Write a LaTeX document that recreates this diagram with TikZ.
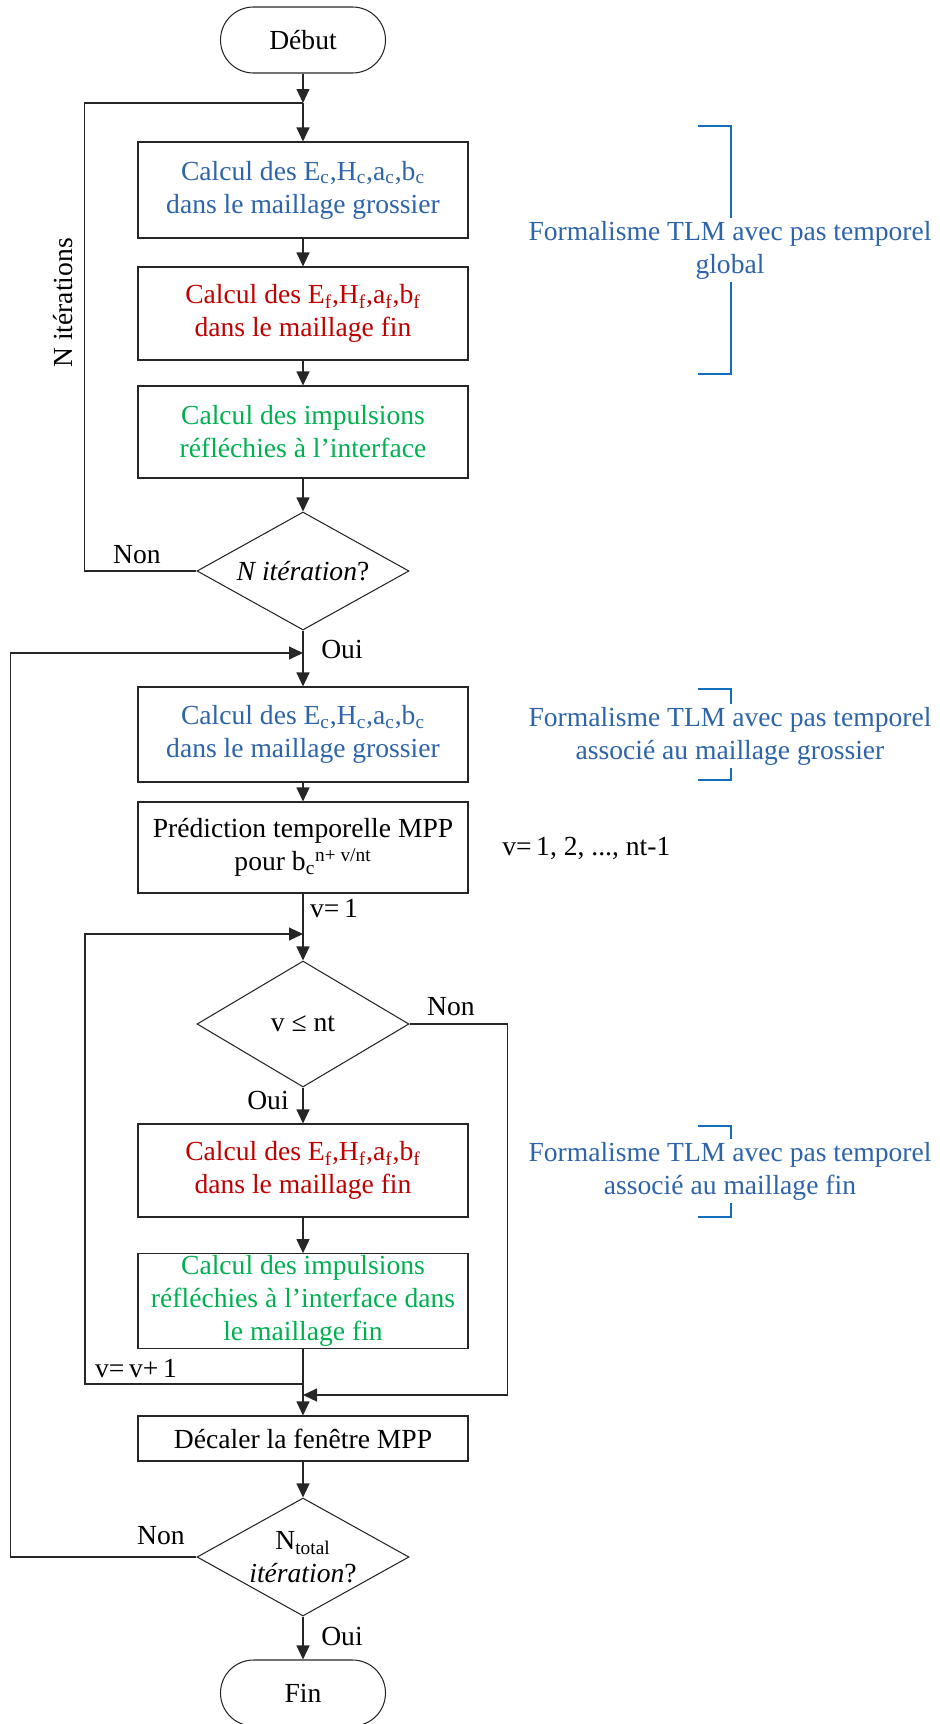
\documentclass[tikz,border=0pt]{standalone}
\usepackage{fontspec}
\setmainfont{Liberation Serif}
\usepackage{tikz}
\usetikzlibrary{arrows.meta,shapes.geometric}
\definecolor{coarseblue}{HTML}{2E64AA}
\definecolor{finered}{HTML}{C00000}
\definecolor{pulsegreen}{HTML}{00B050}
\definecolor{bracketblue}{HTML}{146EBE}

\begin{document}
\begin{tikzpicture}[x=0.2mm,y=-0.2mm,
  font=\fontsize{15.7pt}{18.8pt}\selectfont,
  line width=0.6pt,draw=black!85,
  term/.style={draw=black!85,rounded corners=6.6mm,minimum width=33mm,minimum height=13.2mm,inner sep=0pt},
  proc/.style={draw=black!85,align=center,minimum width=66mm,inner sep=1pt},
  test/.style={draw=black!85,diamond,shape aspect=1.8,minimum width=42.4mm,minimum height=23.6mm,inner sep=-3mm,align=center},
  note/.style={text=coarseblue,fill=white,align=center,inner sep=0.6mm},
  brk/.style={draw=bracketblue,line width=1.2pt},
  lbl/.style={inner sep=1pt},
  ar/.style={-{Triangle[length=2.8mm,width=2.6mm]},draw=black!85}]

\useasboundingbox (0,0) rectangle (940,1724);

% main chain
\node[term]  (deb)   at (303,40)     {Début};
\node[proc,minimum height=19.2mm,text=coarseblue] (c1) at (303,190)
  {Calcul des E\textsubscript{c},H\textsubscript{c},a\textsubscript{c},b\textsubscript{c}\\dans le maillage grossier};
\node[proc,minimum height=18.6mm,text=finered] (f1) at (303,313.5)
  {Calcul des E\textsubscript{f},H\textsubscript{f},a\textsubscript{f},b\textsubscript{f}\\dans le maillage fin};
\node[proc,minimum height=18.4mm,text=pulsegreen] (r1) at (303,432)
  {Calcul des impulsions\\réfléchies à l’interface};
\node[test]  (t1)    at (303,571)    {\textit{N itération}?};
\node[proc,minimum height=19mm,text=coarseblue] (c2) at (303,734.5)
  {Calcul des E\textsubscript{c},H\textsubscript{c},a\textsubscript{c},b\textsubscript{c}\\dans le maillage grossier};
\node[proc,minimum height=18.2mm] (mpp) at (303,847.5)
  {Prédiction temporelle MPP\\pour b\textsubscript{c}\textsuperscript{n+ v/nt}};
\node[test,minimum height=25.2mm] (t2) at (303,1024) {v ≤ nt};
\node[proc,minimum height=18.6mm,text=finered] (f2) at (303,1170.5)
  {Calcul des E\textsubscript{f},H\textsubscript{f},a\textsubscript{f},b\textsubscript{f}\\dans le maillage fin};
\node[proc,minimum height=18.4mm,text=pulsegreen] (r2) at (303,1301)
  {Calcul des impulsions\\réfléchies à l’interface dans\\le maillage fin};
\node[proc,minimum height=9mm] (shift) at (303,1438.5) {Décaler la fenêtre MPP};
\node[test]  (t3)    at (303,1557)   {N\textsubscript{total}\\\textit{itération}?};
\node[term]  (fin)   at (303,1693)   {Fin};

\coordinate (j1) at (303,103);
\coordinate (j2) at (303,653);
\coordinate (j3) at (303,934);
\coordinate (j4) at (303,1384);
\coordinate (j5) at (303,1395);

% labels
\node[rotate=90] (iter) at (63,303) {N itérations};
\node[lbl] (non1) at (137,555)  {Non};
\node[lbl] (oui1) at (342,649)  {Oui};
\node[lbl] (v1)   at (334,909)  {v=\,1};
\node[lbl] (non2) at (451,1007) {Non};
\node[lbl] (oui2) at (268,1100) {Oui};
\node[lbl] (vinc) at (136,1369) {v=\,v+\,1};
\node[lbl] (non3) at (161,1536) {Non};
\node[lbl] (oui3) at (342,1636) {Oui};
\node[lbl,anchor=west] (vrange) at (500,848) {v=\,1, 2, ..., nt-1};

% brackets and notes
\draw[brk] (698,126) -- (731,126) -- (731,374) -- (698,374);
\draw[brk] (698,689) -- (731,689) -- (731,780) -- (698,780);
\draw[brk] (698,1126) -- (731,1126) -- (731,1217) -- (698,1217);
\node[note] (glob) at (730,250)    {Formalisme TLM avec pas temporel\\global};
\node[note] (grof) at (730,736)    {Formalisme TLM avec pas temporel\\associé au maillage grossier};
\node[note] (finf) at (730,1171)   {Formalisme TLM avec pas temporel\\associé au maillage fin};

% connectors
\draw[ar] (deb) -- (j1);
\draw[ar] (j1) -- (c1);
\draw[ar] (c1) -- (f1);
\draw[ar] (f1) -- (r1);
\draw[ar] (r1) -- (t1);
\draw (t1.west) -- ++(-112,0) |- (j1);
\draw[ar] (t1) -- (c2);
\draw[ar] (c2) -- (mpp);
\draw[ar] (mpp) -- (t2);
\draw[ar] (t2) -- (f2);
\draw[ar] (f2) -- (r2);
\draw[ar] (r2) -- (shift);
\draw[ar] (j4) -- ++(-218,0) |- (j3);
\draw[ar] (t2.east) -- ++(98,0) |- (j5);
\draw[ar] (shift) -- (t3);
\draw[ar] (t3.west) -- ++(-186,0) |- (j2);
\draw[ar] (t3) -- (fin);
\end{tikzpicture}
\end{document}
